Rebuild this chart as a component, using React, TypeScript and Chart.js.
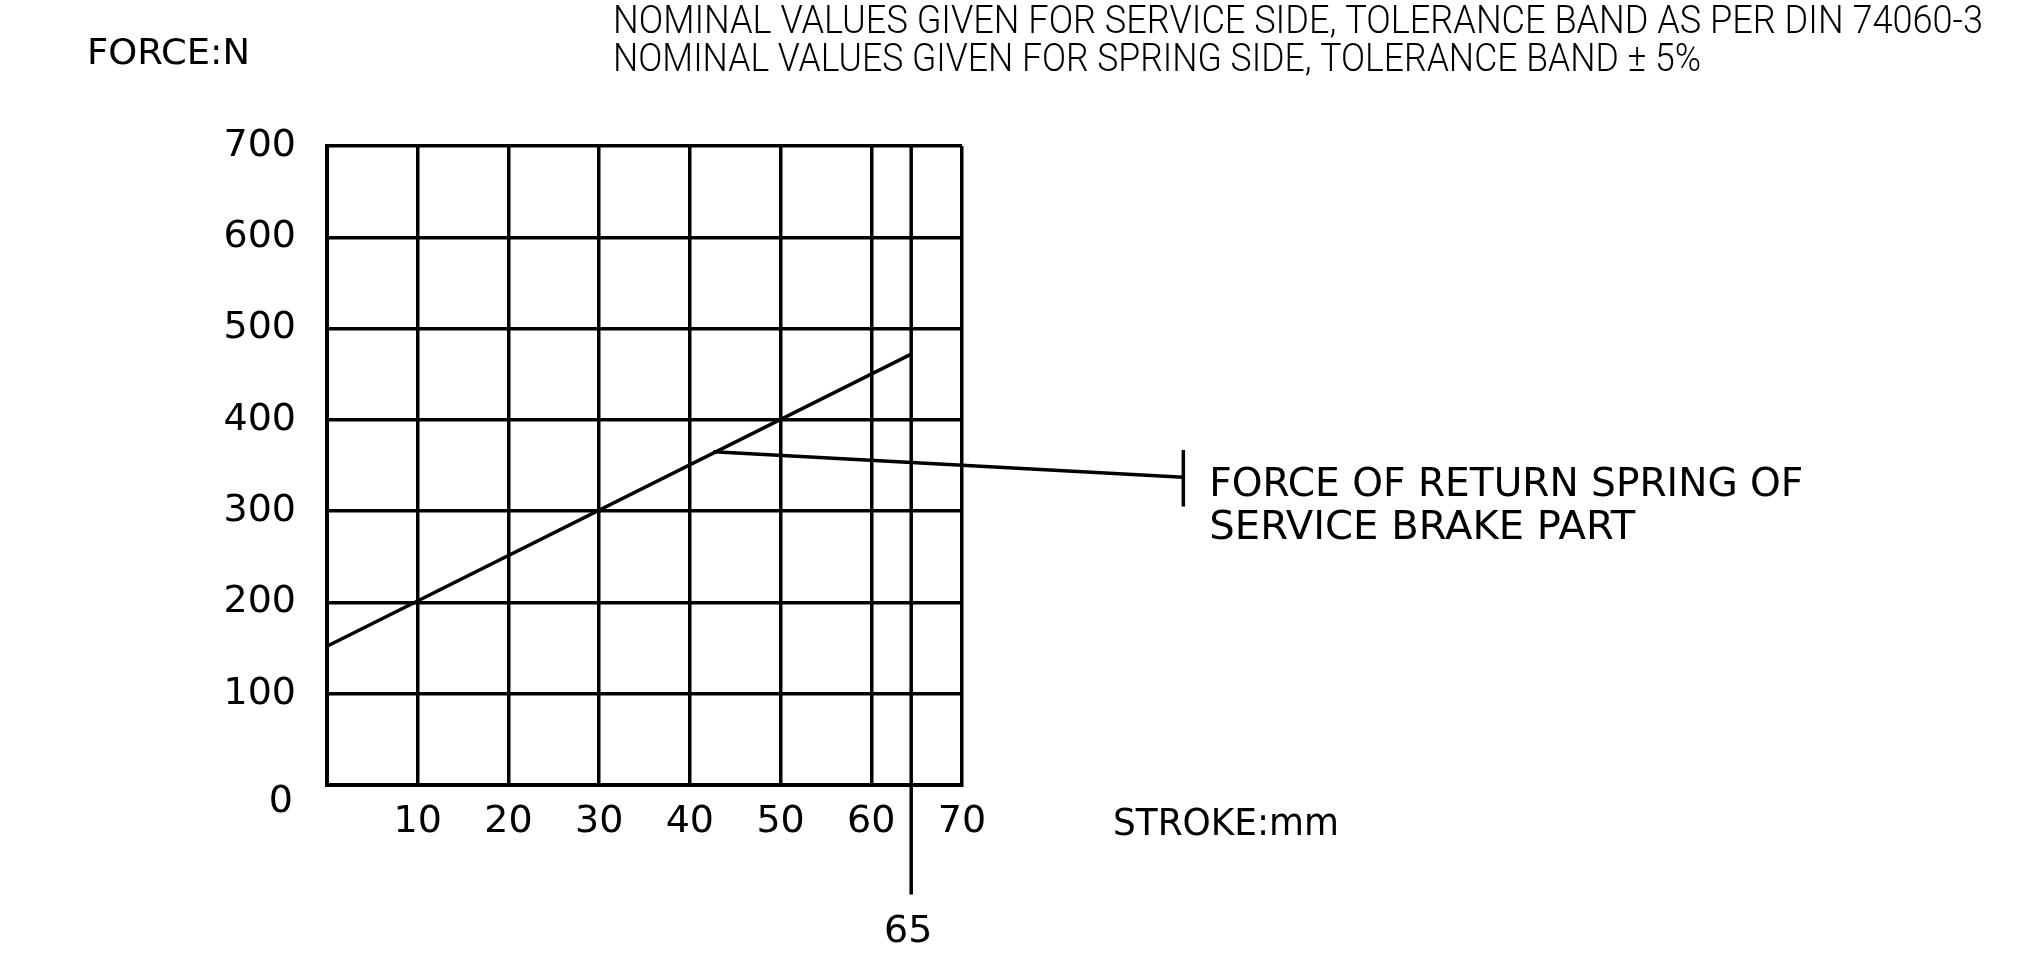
import React, { useEffect, useRef } from 'react';
import { Chart, registerables } from 'chart.js';

Chart.register(...registerables);

// ---- data ----
const X_TICKS = [0, 10, 20, 30, 40, 50, 60, 70];
const Y_TICKS = [0, 100, 200, 300, 400, 500, 600, 700];
const STROKE_MM = [0, 64.4];
const FORCE_N = [152, 472];
const MARK_STROKE_X = [64.4, 64.4];
const MARK_STROKE_Y = [700, -120];
const MARK_LABEL = '65';
const LEADER_X = [42.6, 94.4];
const LEADER_Y = [365, 337];
const LEADER_END_X = [94.4, 94.4];
const LEADER_END_Y = [367, 305];
const HEADER_LINES = [
  'NOMINAL VALUES GIVEN FOR SERVICE SIDE, TOLERANCE BAND AS PER DIN 74060-3',
  'NOMINAL VALUES GIVEN FOR SPRING SIDE, TOLERANCE BAND \u00B1 5%',
];
const NOTE_LINES = ['FORCE OF RETURN SPRING OF', 'SERVICE BRAKE PART'];
const Y_TITLE = 'FORCE:N';
const X_TITLE = 'STROKE:mm';

const zip = (xs: number[], ys: number[]) => xs.map((x, i) => ({ x, y: ys[i] }));

const FONT = '"DejaVu Sans", sans-serif';

function fitText(
  ctx: CanvasRenderingContext2D,
  text: string,
  left: number,
  cy: number,
  width: number,
  cap: number,
  family: string,
  weight: string,
  color: string
) {
  ctx.save();
  ctx.font = `${weight} 100px ${family}`;
  const capRatio = ctx.measureText('H').actualBoundingBoxAscent / 100 || 0.72;
  const size = cap / capRatio;
  ctx.font = `${weight} ${size}px ${family}`;
  const w = ctx.measureText(text).width;
  ctx.fillStyle = color;
  ctx.textAlign = 'left';
  ctx.textBaseline = 'alphabetic';
  ctx.translate(left, cy + cap / 2);
  ctx.scale(width / w, 1);
  ctx.fillText(text, 0, 0);
  ctx.restore();
}

const textPlugin = {
  id: 'drawingText',
  afterDraw(chart: any) {
    const ctx: CanvasRenderingContext2D = chart.ctx;
    const xs = chart.scales.x;
    const ys = chart.scales.y;
    // header notes
    fitText(ctx, HEADER_LINES[0], 613, 19.5, 1370, 27, '"Roboto", sans-serif', '300', '#000');
    fitText(ctx, HEADER_LINES[1], 613, 57, 1088, 27, '"Roboto", sans-serif', '300', '#000');
    // axis titles
    fitText(ctx, Y_TITLE, 87, 50.5, 163, 26, FONT, 'normal', '#000');
    fitText(ctx, X_TITLE, 1113, 821, 226, 27, FONT, 'normal', '#000');
    // zero label
    ctx.save();
    ctx.font = `38px ${FONT}`;
    ctx.fillStyle = '#000';
    ctx.textAlign = 'right';
    ctx.textBaseline = 'middle';
    ctx.fillText('0', xs.left - 34, ys.getPixelForValue(0) + 17);
    // mark label
    ctx.textAlign = 'center';
    ctx.fillText(MARK_LABEL, xs.getPixelForValue(MARK_STROKE_X[1]) - 3, ys.getPixelForValue(MARK_STROKE_Y[1]) + 38);
    ctx.restore();
    // note
    const nx = xs.getPixelForValue(LEADER_X[1]);
    const ny = ys.getPixelForValue(LEADER_Y[1]);
    fitText(ctx, NOTE_LINES[0], nx + 26, ny + 5, 594, 28, FONT, 'normal', '#000');
    fitText(ctx, NOTE_LINES[1], nx + 26, ny + 48, 426, 28, FONT, 'normal', '#000');
  },
};

export default function App() {
  const ref = useRef<HTMLCanvasElement | null>(null);
  useEffect(() => {
    document.body.style.margin = '0';
    const line = (data: { x: number; y: number }[]) => ({
      data,
      borderColor: '#000',
      backgroundColor: '#000',
      borderWidth: 3.5,
      pointRadius: 0,
      tension: 0,
      clip: false as any,
      fill: false,
    });
    const chart = new Chart(ref.current!, {
      type: 'line',
      data: {
        datasets: [
          line(zip(STROKE_MM, FORCE_N)),
          line(zip(MARK_STROKE_X, MARK_STROKE_Y)),
          line(zip(LEADER_X, LEADER_Y)),
          line(zip(LEADER_END_X, LEADER_END_Y)),
        ],
      },
      options: {
        responsive: false,
        devicePixelRatio: 1,
        animation: false,
        events: [],
        layout: { padding: { left: 0, top: 146, right: 1062, bottom: 110 } },
        plugins: { legend: { display: false }, tooltip: { enabled: false } },
        scales: {
          x: {
            type: 'linear',
            min: 0,
            max: 70,
            afterBuildTicks: (s: any) => {
              s.ticks = X_TICKS.map((v) => ({ value: v }));
            },
            afterFit: (s: any) => {
              s.height = 60;
            },
            ticks: {
              callback: (v: any) => (v === 0 ? '' : String(v)),
              font: { family: 'DejaVu Sans', size: 38 },
              color: '#000',
              padding: 14,
              maxRotation: 0,
              autoSkip: false,
            },
            grid: { color: '#000', lineWidth: 3.5, drawTicks: false },
            border: { display: true, color: '#000', width: 4 },
          },
          y: {
            type: 'linear',
            min: 0,
            max: 700,
            afterBuildTicks: (s: any) => {
              s.ticks = Y_TICKS.map((v) => ({ value: v }));
            },
            afterFit: (s: any) => {
              s.width = 327;
            },
            ticks: {
              callback: (v: any) => (v === 0 ? '' : String(v)),
              font: { family: 'DejaVu Sans', size: 38 },
              color: '#000',
              padding: 31,
              autoSkip: false,
            },
            grid: { color: '#000', lineWidth: 3.5, drawTicks: false },
            border: { display: true, color: '#000', width: 4 },
          },
        },
      } as any,
      plugins: [textPlugin],
    });
    return () => chart.destroy();
  }, []);
  return (
    <div style={{ width: 2024, height: 955, background: '#fff' }}>
      <canvas ref={ref} width={2024} height={955} style={{ display: 'block', width: 2024, height: 955 }} />
    </div>
  );
}
